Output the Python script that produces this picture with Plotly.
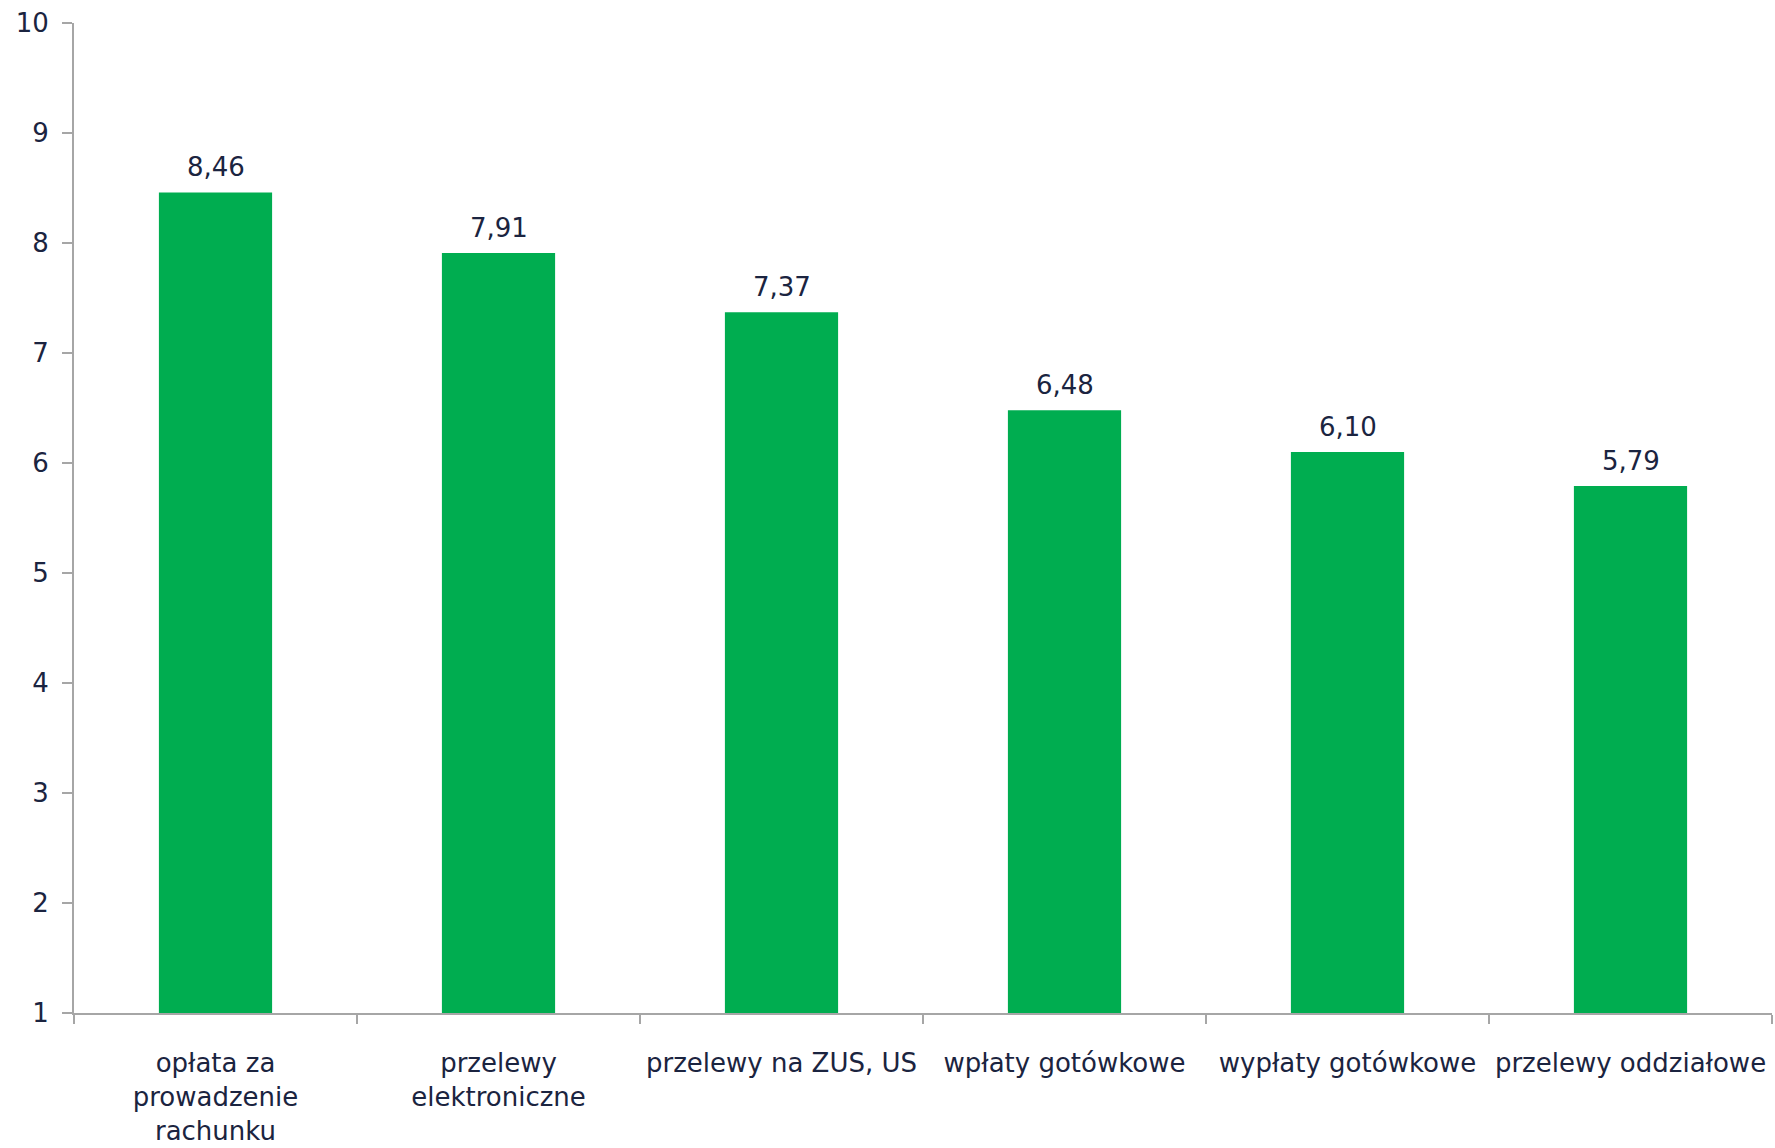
import plotly.graph_objects as go

# Categories and values (decimal comma in labels)
categories = [
    "opłata za<br>prowadzenie<br>rachunku",
    "przelewy<br>elektroniczne",
    "przelewy na ZUS, US",
    "wpłaty gotówkowe",
    "wypłaty gotówkowe",
    "przelewy oddziałowe",
]
values = [8.46, 7.91, 7.37, 6.48, 6.10, 5.79]
y_ticks = [1, 2, 3, 4, 5, 6, 7, 8, 9, 10]

TEXT_COLOR = "#1b2440"
AXIS_COLOR = "#a6a6a6"
BAR_COLOR = "#00AD50"
FONT = "DejaVu Sans"
SIZE = 26

fig = go.Figure(
    go.Bar(
        x=categories,
        y=values,
        base=0,
        marker=dict(color=BAR_COLOR, line=dict(width=0)),
        hoverinfo="skip",
    )
)

# value labels above each bar, positioned on the data coordinates
for cat, val in zip(categories, values):
    fig.add_annotation(
        x=cat,
        y=val,
        text=f"{val:.2f}".replace(".", ","),
        showarrow=False,
        yanchor="bottom",
        yshift=8,
        font=dict(family=FONT, size=SIZE, color=TEXT_COLOR),
    )

fig.update_layout(
    width=1775,
    height=1148,
    margin=dict(l=74, r=3, t=23, b=135),
    paper_bgcolor="white",
    plot_bgcolor="white",
    bargap=0.6,
    showlegend=False,
    font=dict(family=FONT, size=SIZE, color=TEXT_COLOR),
)

fig.update_xaxes(
    type="category",
    range=[-0.5, len(categories) - 0.5],
    tickson="boundaries",
    ticks="outside",
    ticklen=9,
    tickwidth=2,
    tickcolor=AXIS_COLOR,
    showline=True,
    linecolor=AXIS_COLOR,
    linewidth=2,
    showgrid=False,
    ticklabelstandoff=26,
    tickfont=dict(family=FONT, size=SIZE, color=TEXT_COLOR),
    fixedrange=True,
)

fig.update_yaxes(
    range=[1, 10],
    tickvals=y_ticks,
    ticktext=[str(v) for v in y_ticks],
    ticks="outside",
    ticklen=10,
    tickwidth=2,
    tickcolor=AXIS_COLOR,
    showline=True,
    linecolor=AXIS_COLOR,
    linewidth=2,
    showgrid=False,
    zeroline=False,
    ticklabelstandoff=8,
    tickfont=dict(family=FONT, size=SIZE, color=TEXT_COLOR),
    fixedrange=True,
)

fig.write_html("out.html")
